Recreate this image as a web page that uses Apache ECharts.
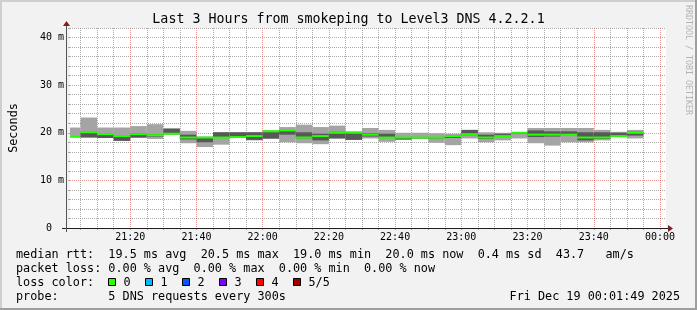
<!DOCTYPE html>
<html><head><meta charset="utf-8">
<script src="https://cdn.jsdelivr.net/npm/echarts@6/dist/echarts.min.js"></script>
<style>html,body{margin:0;padding:0;background:#f2f2f2}#c{width:697px;height:310px}</style>
</head><body><div id="c"></div>
<script>
// ---- data (5-minute bins, smokeping: 5 DNS pings per bin) ----
const binStart = ['21:00','21:05','21:10','21:15','21:20','21:25','21:30','21:35','21:40','21:45','21:50','21:55',
                  '22:00','22:05','22:10','22:15','22:20','22:25','22:30','22:35','22:40','22:45','22:50','22:55',
                  '23:00','23:05','23:10','23:15','23:20','23:25','23:30','23:35','23:40','23:45','23:50'];
const pingMin   = [19.0,19.0,18.9,18.3,18.9,18.7,19.6,17.8,17.0,17.5,18.9,18.4,
                   18.7,18.0,17.8,17.6,18.8,18.5,18.8,18.1,18.5,18.8,17.9,17.4,
                   18.8,18.0,18.4,18.8,17.8,17.3,18.0,18.0,18.4,19.1,18.8];
const pingLo    = [19.1,19.0,18.9,18.3,19.0,19.2,19.7,18.6,18.0,18.9,19.0,18.5,
                   18.8,19.6,18.8,18.4,18.8,18.5,19.2,18.9,18.6,18.8,18.8,18.9,
                   19.5,18.7,19.2,19.8,19.1,19.2,19.5,18.4,18.7,19.2,19.4];
const medianRtt = [19.2,20.1,19.7,19.3,19.7,19.5,19.8,19.0,19.0,19.0,19.1,19.3,
                   20.3,20.5,19.0,19.3,20.0,20.0,19.6,19.0,19.0,19.0,19.0,19.3,
                   19.7,19.0,19.3,20.0,19.6,19.6,19.6,19.0,19.0,19.3,20.0];
const pingHi    = [19.3,20.2,19.8,19.4,19.9,19.7,20.8,19.6,19.1,20.1,20.1,20.1,
                   20.4,20.6,20.1,19.8,20.2,20.1,19.9,19.8,19.1,19.1,19.1,19.5,
                   20.6,19.6,19.8,20.1,20.5,20.3,20.3,20.1,20.1,20.0,20.2];
const pingMax   = [21.1,23.2,21.1,21.1,21.4,21.8,21.0,20.4,19.2,20.1,20.1,20.1,
                   20.5,21.2,21.7,21.2,21.5,20.3,21.0,20.6,20.0,20.0,19.9,19.8,
                   20.6,20.1,20.0,20.1,21.0,21.0,21.0,21.0,20.6,20.2,20.6];
const lossCount = [0,0,0,0,0,0,0,0,0,0,0,0, 0,0,0,0,0,0,0,0,0,0,0,0, 0,0,0,0,0,0,0,0,0,0,0];
const xTickLabels = ['21:20','21:40','22:00','22:20','22:40','23:00','23:20','23:40','00:00'];
const yTickValues = [0,10,20,30,40];
const yTickLabels = ['0  ','10 m','20 m','30 m','40 m'];
const lossLegend = ['0','1','2','3','4','5/5'];
const lossColors = ['#26ff00','#00b8ff','#0059ff','#7e00ff','#ff0000','#a10000'];
const rangeStart = '21:01:49', rangeEnd = '00:01:49';

// ---- helpers ----
function toMin(s){ const p=s.split(':').map(Number); let h=p[0]; if(h<12) h+=24; return (h-21)*60+p[1]+(p[2]||0)/60; }
function fmt(m){ let h=Math.floor(m/60)+21, mm=Math.round(m%60); h%=24; return String(h).padStart(2,'0')+':'+String(mm).padStart(2,'0'); }
const tMin = toMin(rangeStart), tMax = toMin(rangeEnd);
const xLabelVals = xTickLabels.map(toMin);
const xMinorVals = []; for(let t=5;t<=180;t+=5) xMinorVals.push(t);

const items = binStart.map((s,i)=>{ const t=toMin(s); return [t, t+5, pingMin[i], pingLo[i], medianRtt[i], pingHi[i], pingMax[i], lossCount[i]]; });

const MONO = '"DejaVu Sans Mono", monospace';
const GRID = 'rgba(143,143,143,0.75)', MGRID = 'rgba(222,79,79,0.6)';
const L = 66, T = 28, W = 600, H = 200;

const chart = echarts.init(document.getElementById('c'), null, {renderer:'canvas'});
const g = [];
// frame shades
g.push({type:'rect', shape:{x:0,y:0,width:697,height:2}, style:{fill:'#cfcfcf'}, silent:true});
g.push({type:'rect', shape:{x:0,y:0,width:2,height:310}, style:{fill:'#cfcfcf'}, silent:true});
g.push({type:'rect', shape:{x:695,y:0,width:2,height:310}, style:{fill:'#9e9e9e'}, silent:true});
g.push({type:'rect', shape:{x:0,y:308,width:697,height:2}, style:{fill:'#9e9e9e'}, silent:true});
// axis lines (rrdtool style: extend 4px beyond the canvas) + arrows
g.push({type:'line', shape:{x1:L-4,y1:T+H+0.5,x2:L+W+4,y2:T+H+0.5}, style:{stroke:'#1f1f1f',lineWidth:1}, z:10});
g.push({type:'line', shape:{x1:L+0.5,y1:T+H+4,x2:L+0.5,y2:T-4}, style:{stroke:'#555',lineWidth:1}, z:10});
g.push({type:'polygon', shape:{points:[[L+W+2,T+H-3],[L+W+2,T+H+4],[L+W+7,T+H+0.5]]}, style:{fill:'#801f1f'}, z:11});
g.push({type:'polygon', shape:{points:[[L-3,T-2],[L+4,T-2],[L+0.5,T-7]]}, style:{fill:'#801f1f'}, z:11});
// watermark
g.push({type:'text', x:688, y:5, rotation:-Math.PI/2, style:{text:'RRDTOOL / TOBI OETIKER', font:'8.3px '+MONO, fill:'#b4b4b4', align:'left', verticalAlign:'middle'}});
// legend lines
const LF = '11.8px '+MONO;
const lines = [
  'median rtt:  19.5 ms avg  20.5 ms max  19.0 ms min  20.0 ms now  0.4 ms sd  43.7   am/s',
  'packet loss: 0.00 % avg  0.00 % max  0.00 % min  0.00 % now',
  'loss color:',
  'probe:       5 DNS requests every 300s'
];
const ly = [254.5, 268.5, 282.5, 296.5];
lines.forEach((s,i)=> g.push({type:'text', x:16, y:ly[i], style:{text:s, font:LF, fill:'#000', align:'left', verticalAlign:'middle'}}));
g.push({type:'text', x:680, y:ly[3], style:{text:'Fri Dec 19 00:01:49 2025', font:LF, fill:'#000', align:'right', verticalAlign:'middle'}});
lossLegend.forEach((s,i)=>{
  const bx = 108.5 + i*37;
  g.push({type:'rect', shape:{x:bx, y:278.5, width:7, height:7}, style:{fill:lossColors[i], stroke:'#000', lineWidth:1}});
  g.push({type:'text', x:bx+15, y:ly[2], style:{text:s, font:LF, fill:'#000', align:'left', verticalAlign:'middle'}});
});

chart.setOption({
  animation:false,
  backgroundColor:'#f2f2f2',
  title:{text:'Last 3 Hours from smokeping to Level3 DNS 4.2.2.1', left:'center', top:13.5, padding:0,
    textStyle:{fontFamily:MONO, fontSize:13.3, fontWeight:'normal', color:'#000'}},
  grid:{left:L, top:T, width:W, height:H, show:true, backgroundColor:'#ffffff', borderWidth:0, containLabel:false},
  xAxis:{type:'value', min:tMin, max:tMax,
    axisLine:{show:false},
    axisTick:{show:true, length:2, customValues:xMinorVals, lineStyle:{color:GRID}},
    axisLabel:{customValues:xLabelVals, formatter:fmt, fontFamily:MONO, fontSize:10, color:'#000', margin:4},
    splitLine:{show:true, lineStyle:{color:[GRID,GRID,GRID,MGRID], type:[1,1], width:1}}
  },
  yAxis:{type:'value', min:0, max:42, interval:2,
    name:'Seconds', nameLocation:'middle', nameGap:50, nameRotate:90,
    nameTextStyle:{fontFamily:MONO, fontSize:11.8, color:'#000'},
    axisLine:{show:false},
    axisTick:{show:true, length:2, lineStyle:{color:GRID}},
    axisLabel:{customValues:yTickValues, formatter:(v)=>yTickLabels[yTickValues.indexOf(v)], fontFamily:MONO, fontSize:10, color:'#000', margin:6},
    splitLine:{show:true, lineStyle:{color:[MGRID,GRID,GRID,GRID,GRID], type:[1,1], width:1}}
  },
  graphic:{elements:g},
  series:[{
    type:'custom', clip:true, data:items,
    encode:{x:[0,1], y:[2,6]},
    renderItem:function(params, api){
      const t0 = Math.max(api.value(0), tMin), t1 = api.value(1);
      const xa = api.coord([t0, 0])[0], xb = api.coord([t1, 0])[0];
      const yy = v => api.coord([t0, v])[1];
      const w = xb - xa;
      const mn = yy(api.value(2)), lo = yy(api.value(3)), md = yy(api.value(4)), hi = yy(api.value(5)), mx = yy(api.value(6));
      return {type:'group', children:[
        {type:'rect', shape:{x:xa, y:mx, width:w, height:mn-mx}, style:{fill:'#a4a4a4'}},
        {type:'rect', shape:{x:xa, y:hi, width:w, height:lo-hi}, style:{fill:'#585858'}},
        {type:'rect', shape:{x:xa, y:md-1, width:w, height:2}, style:{fill:lossColors[api.value(7)]}}
      ]};
    }
  }]
});
</script></body></html>
